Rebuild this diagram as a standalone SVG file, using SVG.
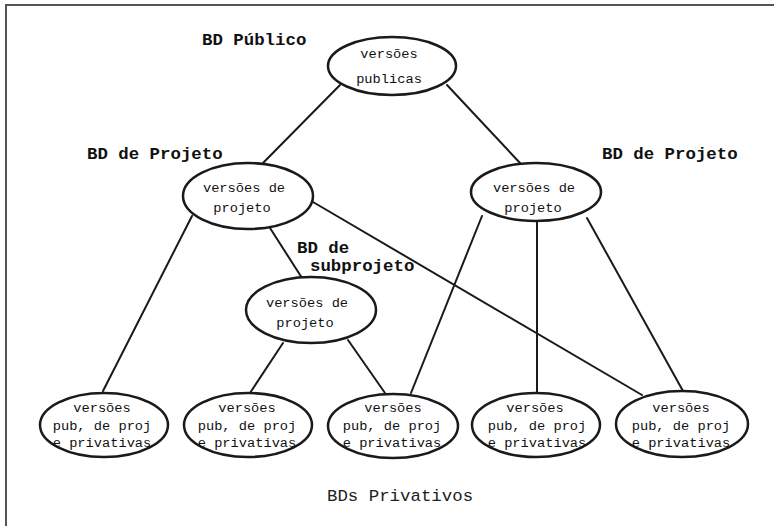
<svg xmlns="http://www.w3.org/2000/svg" width="774" height="526" viewBox="0 0 774 526">
<style>
.frame{stroke:#555;stroke-width:2;fill:none}
.conn line{stroke:#1a1a1a;stroke-width:2;stroke-linecap:round}
.node ellipse{fill:#fff;stroke:#1a1a1a;stroke-width:2.5}
.in{font-family:"Liberation Mono","Courier New",monospace;font-size:13.7px;fill:#111;text-anchor:middle}
.lbl{font-family:"Liberation Mono","Courier New",monospace;font-size:17.4px;font-weight:bold;fill:#111}
.lbl2{font-family:"Liberation Mono","Courier New",monospace;font-size:17.4px;fill:#222}
</style>
<rect width="774" height="526" fill="#fff"/>
<path class="frame" d="M6,526 V5 H774"/>
<g id="connectors" class="conn">
<line x1="340" y1="85" x2="263" y2="163"/>
<line x1="447" y1="85" x2="520" y2="163"/>
<line x1="192" y1="216" x2="103" y2="391"/>
<line x1="270" y1="228" x2="302" y2="278"/>
<line x1="313" y1="202" x2="642" y2="395"/>
<line x1="283" y1="343" x2="250" y2="393"/>
<line x1="348" y1="340" x2="385" y2="393"/>
<line x1="482" y1="216" x2="411" y2="393"/>
<line x1="537" y1="221" x2="537" y2="392"/>
<line x1="587" y1="218" x2="683" y2="391"/>
</g>
<g id="labels">
<text class="lbl" x="202" y="45">BD Público</text>
<text class="lbl" x="87" y="159">BD de Projeto</text>
<text class="lbl" x="602" y="159">BD de Projeto</text>
<text class="lbl" x="297" y="253">BD de</text>
<text class="lbl" x="310" y="271">subprojeto</text>
<text class="lbl2" x="327" y="501">BDs Privativos</text>
</g>
<g id="n-publico" class="node">
<ellipse cx="392" cy="66" rx="64" ry="29"/>
<text class="in" x="389" y="58">versões</text>
<text class="in" x="389" y="83">publicas</text>
</g>
<g id="n-projeto-esq" class="node">
<ellipse cx="248" cy="196" rx="65" ry="33"/>
<text class="in" x="244" y="192">versões de</text>
<text class="in" x="242" y="212">projeto</text>
</g>
<g id="n-projeto-dir" class="node">
<ellipse cx="536" cy="192" rx="65" ry="29"/>
<text class="in" x="534" y="192">versões de</text>
<text class="in" x="533" y="212">projeto</text>
</g>
<g id="n-subprojeto" class="node">
<ellipse cx="311" cy="310" rx="65" ry="33"/>
<text class="in" x="307" y="307">versões de</text>
<text class="in" x="305" y="327">projeto</text>
</g>
<g id="n-priv1" class="node">
<ellipse cx="104" cy="425" rx="64" ry="32"/>
<text class="in" x="102" y="412">versões</text>
<text class="in" x="102" y="429.5">pub, de proj</text>
<text class="in" x="102" y="446.5">e privativas</text>
</g>
<g id="n-priv2" class="node">
<ellipse cx="248" cy="425" rx="64" ry="32"/>
<text class="in" x="247" y="412">versões</text>
<text class="in" x="247" y="429.5">pub, de proj</text>
<text class="in" x="247" y="446.5">e privativas</text>
</g>
<g id="n-priv3" class="node">
<ellipse cx="393" cy="426" rx="65" ry="32"/>
<text class="in" x="393" y="412">versões</text>
<text class="in" x="392" y="429.5">pub, de proj</text>
<text class="in" x="392" y="446.5">e privativas</text>
</g>
<g id="n-priv4" class="node">
<ellipse cx="536" cy="425" rx="64" ry="32"/>
<text class="in" x="535" y="412">versões</text>
<text class="in" x="537" y="429.5">pub, de proj</text>
<text class="in" x="537" y="446.5">e privativas</text>
</g>
<g id="n-priv5" class="node">
<ellipse cx="682" cy="424" rx="66" ry="33"/>
<text class="in" x="681" y="412">versões</text>
<text class="in" x="681" y="429.5">pub, de proj</text>
<text class="in" x="681" y="446.5">e privativas</text>
</g>
</svg>
